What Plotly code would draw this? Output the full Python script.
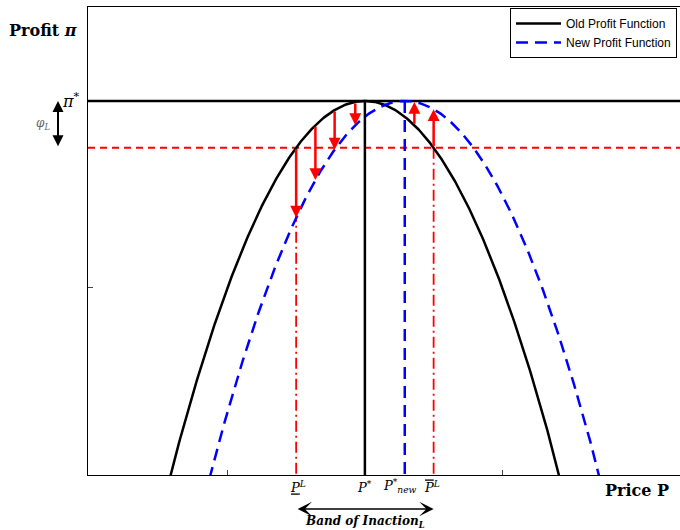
import numpy as np
import plotly.graph_objects as go

# ---- parameters ----
pi_star = 1.0          # peak profit (old and new)
pi_L = 0.875           # profit threshold pi* - phi_L
P_star = 1.0           # old optimal price
P_star_new = 1.145     # new optimal price
curv = 2.0             # curvature of the profit functions
P_low = 0.75           # lower edge of band of inaction
P_high = 1.25          # upper edge of band of inaction
down_x = [0.75, 0.82, 0.89, 0.965]
up_x = [1.18, 1.25]
x_range = [-0.007, 2.146]
y_range = [0.0, 1.2513]
x_ticks = [0.5, 1.5]
y_ticks = [0.5]

P = np.linspace(x_range[0], x_range[1], 600)

def old_profit(p):
    return pi_star - curv * (np.asarray(p) - P_star) ** 2

def new_profit(p):
    return pi_star - curv * (np.asarray(p) - P_star_new) ** 2

fig = go.Figure()
# horizontal reference lines
fig.add_trace(go.Scatter(x=x_range, y=[pi_star, pi_star], mode="lines",
                         line=dict(color="black", width=2.5), showlegend=False, hoverinfo="skip"))
fig.add_trace(go.Scatter(x=x_range, y=[pi_L, pi_L], mode="lines",
                         line=dict(color="#ff0000", width=2, dash="7px,5px"), showlegend=False, hoverinfo="skip"))
# band edges
for pv in [P_low, P_high]:
    fig.add_trace(go.Scatter(x=[pv, pv], y=[pi_L, y_range[0]], mode="lines",
                             line=dict(color="#ff0000", width=1.8, dash="11px,4px,2px,4px"),
                             showlegend=False, hoverinfo="skip"))
# curves
fig.add_trace(go.Scatter(x=P, y=old_profit(P), mode="lines", name="Old Profit Function",
                         line=dict(color="black", width=2.5)))
fig.add_trace(go.Scatter(x=P, y=new_profit(P), mode="lines", name="New Profit Function",
                         line=dict(color="#0000ff", width=2.5, dash="12px,7px")))
# optimal price verticals
fig.add_trace(go.Scatter(x=[P_star, P_star], y=[pi_star, y_range[0]], mode="lines",
                         line=dict(color="black", width=2.5), showlegend=False, hoverinfo="skip"))
fig.add_trace(go.Scatter(x=[P_star_new, P_star_new], y=[pi_star, y_range[0]], mode="lines",
                         line=dict(color="#0000ff", width=2.5, dash="12px,7px"), showlegend=False, hoverinfo="skip"))

ann = []
for xv in down_x + up_x:
    ann.append(dict(x=xv, y=float(new_profit(xv)), ax=xv, ay=float(old_profit(xv)),
                    xref="x", yref="y", axref="x", ayref="y", text="", showarrow=True,
                    arrowhead=2, arrowsize=0.95, arrowwidth=2.5, arrowcolor="#ff0000"))

serif = "DejaVu Serif"
# phi_L double arrow (left of axis)
phi_x = -30 / 592
ann.append(dict(x=phi_x, y=pi_star, xref="paper", yref="y", axref="pixel", ayref="y",
                ax=0, ay=pi_L, text="", showarrow=True, arrowhead=2, arrowside="end+start",
                arrowsize=1.1, arrowwidth=2, arrowcolor="black"))
ann.append(dict(x=-36 / 592, y=(pi_star + pi_L) / 2, xref="paper", yref="y", text="<i>φ<sub>L</sub></i>",
                showarrow=False, xanchor="right", font=dict(family=serif, size=12, color="#666666")))
ann.append(dict(x=-6 / 592, y=pi_star, xref="paper", yref="y", text="<i>π</i><sup>*</sup>",
                showarrow=False, xanchor="right", font=dict(family=serif, size=16, color="black")))
ann.append(dict(x=-81 / 592, y=(475 - 19) / 468, xref="paper", yref="paper", text="<b>Profit <i>π</i></b>",
                showarrow=False, xanchor="left", font=dict(family=serif, size=16, color="black")))
ann.append(dict(x=1 - 9 / 592, y=-27 / 468, xref="paper", yref="paper", text="<b>Price P</b>",
                showarrow=False, xanchor="right", font=dict(family=serif, size=16, color="black")))
# bottom price labels
lab_y = -22 / 468
lab_font = dict(family=serif, size=13, color="black")
ann.append(dict(x=P_low, y=lab_y, xref="x", yref="paper", text="<i><u>P</u></i><sup><i>L</i></sup>",
                showarrow=False, font=lab_font, xshift=2))
ann.append(dict(x=P_star, y=lab_y, xref="x", yref="paper", text="<i>P</i><sup>*</sup>",
                showarrow=False, font=lab_font))
ann.append(dict(x=P_star_new, y=lab_y, xref="x", yref="paper", text="<i>P</i><sup>*</sup><sub><i>new</i></sub>",
                showarrow=False, font=lab_font, xshift=-5))
ann.append(dict(x=P_high, y=lab_y, xref="x", yref="paper",
                text="<span style='text-decoration:overline'><i>P</i></span><sup><i>L</i></sup>",
                showarrow=False, font=lab_font, xshift=-2))
# band of inaction arrow
band_y = -34 / 468
px_per_x = 592 / (x_range[1] - x_range[0])
ann.append(dict(x=P_high, y=band_y, xref="x", yref="paper", axref="pixel", ayref="pixel",
                ax=-(P_high - P_low) * px_per_x, ay=0, text="", showarrow=True, arrowhead=3,
                arrowside="end+start", arrowsize=1.5, arrowwidth=1.6, arrowcolor="black"))
ann.append(dict(x=(P_low + P_high) / 2, y=-57 / 468, xref="x", yref="paper",
                text="<b><i>Band of Inaction<sub>L</sub></i></b>", showarrow=False,
                font=dict(family=serif, size=12, color="black")))

fig.update_layout(
    width=680, height=530,
    margin=dict(l=88, r=0, t=7, b=55),
    paper_bgcolor="white", plot_bgcolor="white",
    showlegend=True,
    legend=dict(x=(677 - 88) / 592, xanchor="right", y=(475 - 8) / 468, yanchor="top",
                bordercolor="black", borderwidth=1, bgcolor="white",
                font=dict(family="Liberation Sans", size=12, color="black"),
                tracegroupgap=0, itemwidth=45),
    annotations=ann,
)
fig.update_xaxes(range=x_range, showgrid=False, zeroline=False, showline=True, linecolor="black",
                 linewidth=1.2, mirror=True, ticks="inside", ticklen=5, tickcolor="#444444",
                 tickvals=x_ticks, showticklabels=False)
fig.update_yaxes(range=y_range, showgrid=False, zeroline=False, showline=True, linecolor="black",
                 linewidth=1.2, mirror=False, ticks="inside", ticklen=5, tickcolor="#444444",
                 tickvals=y_ticks, showticklabels=False)

fig.write_html("out.html", config={"displayModeBar": False},
               post_script="document.body.style.margin='0';")
